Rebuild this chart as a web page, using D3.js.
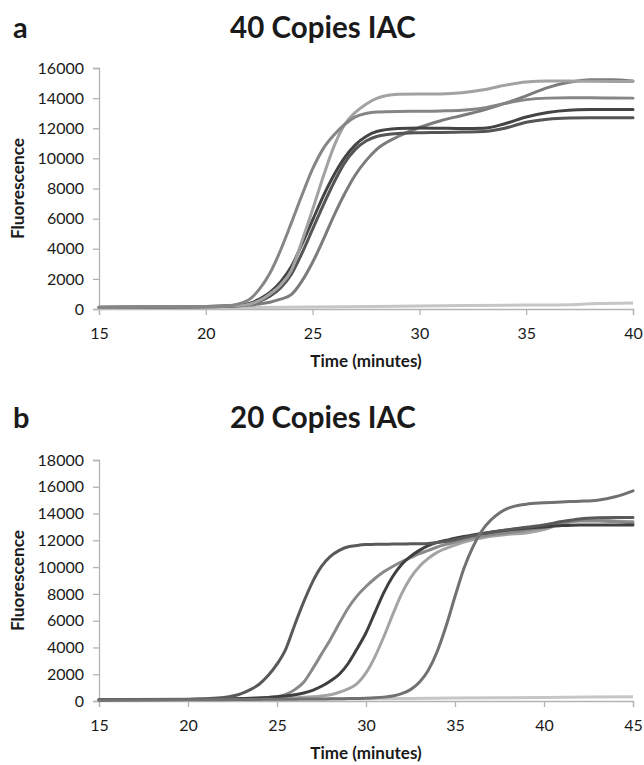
<!DOCTYPE html>
<html>
<head>
<meta charset="utf-8">
<script src="https://cdn.jsdelivr.net/npm/d3@7"></script>
<style>
  html, body { margin: 0; padding: 0; background: #fff; }
  svg { display: block; }
  text { font-family: Lato, "Open Sans", sans-serif; fill: #1a1a1a; }
</style>
</head>
<body>
<svg id="chart" width="644" height="765"></svg>
<script>
// ---------- Panel a: 40 copies IAC ----------
const topTimes = [15, 20, 21, 22, 22.5, 23, 23.5, 24, 24.5, 25, 25.5, 26, 26.5, 27, 27.5, 28, 29, 30, 31, 32, 33, 34, 35, 36, 37, 38, 39, 40];
const topEarly   = [120, 170, 220, 600, 1300, 2370, 3900, 5700, 7550, 9300, 10650, 11550, 12250, 12750, 12980, 13080, 13120, 13130, 13150, 13200, 13350, 13650, 13900, 14000, 14020, 14020, 14010, 14000];
const topLight   = [110, 160, 200, 300, 550, 1000, 1600, 2550, 4500, 6600, 8800, 10800, 12250, 13050, 13600, 13980, 14250, 14280, 14280, 14350, 14550, 14850, 15070, 15130, 15130, 15120, 15110, 15100];
const topDarkA   = [120, 170, 210, 350, 650, 1100, 1800, 2800, 4300, 5900, 7500, 8900, 10050, 10900, 11450, 11780, 11980, 12020, 12000, 11980, 12000, 12300, 12750, 13050, 13200, 13240, 13250, 13250];
const topDarkB   = [100, 150, 190, 300, 500, 850, 1400, 2300, 3700, 5300, 6900, 8400, 9700, 10600, 11150, 11450, 11650, 11700, 11720, 11750, 11780, 12000, 12400, 12600, 12680, 12700, 12700, 12700];
const topLate    = [100, 150, 180, 250, 330, 450, 650, 950, 1850, 3100, 4600, 6200, 7650, 8900, 9850, 10600, 11450, 12050, 12500, 12850, 13200, 13650, 14150, 14700, 15050, 15220, 15220, 15130];
const topBaseTimes  = [15, 20, 25, 30, 35, 37, 38, 40];
const topBaseValues = [60, 80, 130, 200, 260, 290, 350, 400];
const topYTicks = [0, 2000, 4000, 6000, 8000, 10000, 12000, 14000, 16000];
const topXTicks = [15, 20, 25, 30, 35, 40];

// ---------- Panel b: 20 copies IAC ----------
const botTimes = [15, 20, 21, 22, 23, 23.5, 24, 24.5, 25, 25.5, 26, 26.5, 27, 27.5, 28, 28.5, 29, 29.5, 30, 30.5, 31, 31.5, 32, 32.5, 33, 33.5, 34, 34.5, 35, 35.5, 36, 36.5, 37, 37.5, 38, 39, 40, 41, 42, 43, 44, 45];
const botFirst  = [100, 130, 170, 260, 550, 850, 1250, 1900, 2750, 3900, 5700, 7400, 8900, 10050, 10800, 11250, 11520, 11620, 11680, 11700, 11710, 11720, 11730, 11740, 11750, 11770, 11830, 11920, 12050, 12200, 12350, 12500, 12600, 12700, 12800, 12980, 13150, 13400, 13600, 13680, 13700, 13700];
const botBroad  = [90, 110, 120, 140, 170, 190, 220, 260, 320, 500, 850, 1400, 2400, 3500, 4600, 5800, 6950, 7850, 8550, 9150, 9650, 10050, 10400, 10700, 11000, 11250, 11500, 11700, 11880, 12050, 12200, 12320, 12420, 12500, 12580, 12750, 12950, 13250, 13450, 13450, 13400, 13300];
const botDark   = [100, 120, 130, 150, 180, 200, 230, 270, 320, 380, 460, 600, 800, 1100, 1500, 2000, 2800, 3900, 5100, 6600, 8100, 9300, 10200, 10800, 11250, 11600, 11850, 12000, 12150, 12280, 12400, 12500, 12600, 12700, 12780, 12900, 13000, 13100, 13150, 13150, 13150, 13150];
const botLight  = [90, 110, 120, 130, 150, 160, 170, 190, 210, 230, 250, 280, 320, 380, 470, 650, 900, 1300, 2100, 3300, 4800, 6450, 8000, 9200, 10050, 10650, 11100, 11400, 11650, 11880, 12050, 12180, 12300, 12380, 12450, 12550, 12800, 13250, 13500, 13550, 13450, 13400];
const botLate   = [80, 90, 95, 100, 110, 115, 120, 125, 130, 135, 140, 145, 150, 155, 160, 170, 180, 190, 210, 240, 290, 380, 550, 850, 1400, 2300, 3700, 5600, 7800, 9900, 11500, 12700, 13500, 14050, 14400, 14700, 14800, 14870, 14920, 15000, 15250, 15700];
const botBaseTimes  = [15, 20, 25, 30, 35, 40, 45];
const botBaseValues = [60, 80, 120, 170, 220, 270, 320];
const botYTicks = [0, 2000, 4000, 6000, 8000, 10000, 12000, 14000, 16000, 18000];
const botXTicks = [15, 20, 25, 30, 35, 40, 45];

const svg = d3.select("#chart");

function drawPanel(cfg) {
  const g = svg.append("g");
  const x = d3.scaleLinear().domain(cfg.xDomain).range([cfg.left, cfg.right]);
  const y = d3.scaleLinear().domain(cfg.yDomain).range([cfg.bottom, cfg.top]);

  // panel letter and title
  g.append("text").attr("x", 13).attr("y", cfg.titleY)
    .attr("font-size", 29).attr("font-weight", 700).text(cfg.letter);
  g.append("text").attr("x", 323).attr("y", cfg.titleY)
    .attr("text-anchor", "middle").attr("font-size", 29.5).attr("font-weight", 700)
    .text(cfg.title);

  // y axis
  const yAxis = g.append("g").attr("transform", `translate(${cfg.left},0)`)
    .call(d3.axisLeft(y).tickValues(cfg.yTicks).tickSize(6).tickPadding(9).tickFormat(d3.format("d")));
  // x axis
  const xAxis = g.append("g").attr("transform", `translate(0,${cfg.bottom})`)
    .call(d3.axisBottom(x).tickValues(cfg.xTicks).tickSize(6).tickPadding(13).tickFormat(d3.format("d")));
  [yAxis, xAxis].forEach(a => {
    a.select(".domain").attr("stroke", "#b4b4b4").attr("stroke-width", 1.3);
    a.selectAll(".tick line").attr("stroke", "#b4b4b4").attr("stroke-width", 1.3);
    a.selectAll(".tick text").attr("font-size", 16).attr("fill", "#1a1a1a")
      .attr("font-family", "Lato, 'Open Sans', sans-serif");
  });

  // axis titles
  g.append("text").attr("x", (cfg.left + cfg.right) / 2).attr("y", cfg.bottom + 58)
    .attr("text-anchor", "middle").attr("font-size", 17).attr("font-weight", 700)
    .text("Time (minutes)");
  g.append("text")
    .attr("transform", `translate(24,${(cfg.top + cfg.bottom) / 2}) rotate(-90)`)
    .attr("text-anchor", "middle").attr("font-size", 17.3).attr("font-weight", 700)
    .text("Fluorescence");

  const line = d3.line().x(d => x(d[0])).y(d => y(d[1])).curve(d3.curveMonotoneX);

  // flat no-amplification trace
  g.append("path")
    .datum(cfg.baseTimes.map((t, i) => [t, cfg.baseValues[i]]))
    .attr("d", line).attr("fill", "none")
    .attr("stroke", "#c6c6c6").attr("stroke-width", 3);

  cfg.series.forEach(s => {
    g.append("path")
      .datum(cfg.times.map((t, i) => [t, s.values[i]]))
      .attr("d", line).attr("fill", "none")
      .attr("stroke", s.color).attr("stroke-width", 3)
      .attr("stroke-linejoin", "round").attr("stroke-linecap", "round");
  });
}

drawPanel({
  letter: "a", title: "40 Copies IAC", titleY: 38,
  left: 99, right: 633, top: 68, bottom: 309,
  xDomain: [15, 40], yDomain: [0, 16000],
  xTicks: topXTicks, yTicks: topYTicks,
  times: topTimes, baseTimes: topBaseTimes, baseValues: topBaseValues,
  series: [
    { values: topLate,  color: "#7c7c7c" },
    { values: topDarkB, color: "#555555" },
    { values: topDarkA, color: "#444444" },
    { values: topLight, color: "#a2a2a2" },
    { values: topEarly, color: "#868686" }
  ]
});

drawPanel({
  letter: "b", title: "20 Copies IAC", titleY: 428,
  left: 99, right: 633, top: 460, bottom: 701,
  xDomain: [15, 45], yDomain: [0, 18000],
  xTicks: botXTicks, yTicks: botYTicks,
  times: botTimes, baseTimes: botBaseTimes, baseValues: botBaseValues,
  series: [
    { values: botLight, color: "#a4a4a4" },
    { values: botBroad, color: "#898989" },
    { values: botDark,  color: "#3f3f3f" },
    { values: botFirst, color: "#595959" },
    { values: botLate,  color: "#717171" }
  ]
});
</script>
</body>
</html>
